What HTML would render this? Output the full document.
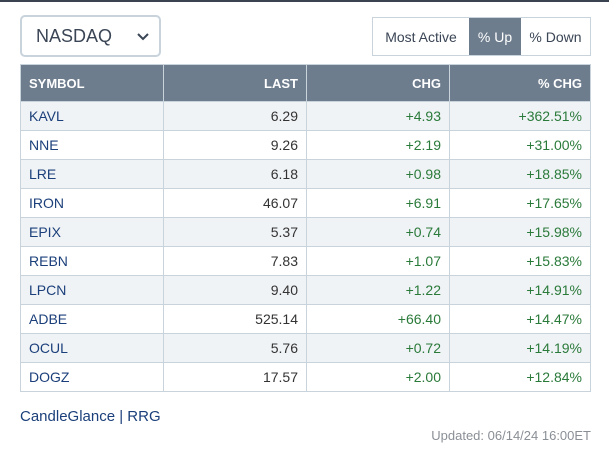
<!DOCTYPE html>
<html><head><style>
body{margin:0;width:609px;height:451px;background:#fff;font-family:"Liberation Sans",sans-serif;position:relative;overflow:hidden}
.top{position:absolute;left:0;top:0;width:609px;height:2px;background:#3c4350}
.sel{position:absolute;left:20px;top:15px;width:137px;height:38px;border:2px solid #c8d3dc;border-radius:5px;box-sizing:content-box}
.sel span{position:absolute;left:14px;top:9px;font-size:18px;color:#3a4555}
.sel svg{position:absolute;right:10px;top:16px}
.btns{position:absolute;left:372px;top:17px;width:217px;height:37px;border:1px solid #c8d3dc;display:flex;font-size:14px;color:#3a4555}
.btns div{display:flex;align-items:center;justify-content:center;height:37px}
table{position:absolute;left:20px;top:64px;width:571px;border-collapse:collapse;font-size:14px}
th{background:#6e7d8e;color:#fff;font-size:13px;height:36px;padding:0 8px;text-align:right;border:1px solid #c8d3dc;font-weight:bold}
th:first-child{text-align:left}
td{height:28px;padding:0 8px;text-align:right;border:1px solid #c8d3dc;color:#333}
td:first-child{text-align:left;color:#1b3f7a;width:125px}
td.g{color:#2a7a3a}
tr:nth-child(even) td{background:#f0f3f6}
.foot{position:absolute;left:20px;top:408px;font-size:15px;color:#1b3f7a}
.upd{position:absolute;right:18px;top:428px;font-size:13px;color:#8a8f96}
</style></head><body>
<div class="top"></div>
<div class="sel"><span>NASDAQ</span><svg width="12" height="8"><polyline points="1,1 6,6 11,1" fill="none" stroke="#3a4555" stroke-width="2"/></svg></div>
<div class="btns"><div style="width:96px">Most Active</div><div style="width:52px;background:#6e7d8e;color:#fff">% Up</div><div style="width:69px">% Down</div></div>
<table>
<tr><th style="width:126px">SYMBOL</th><th style="width:126px">LAST</th><th style="width:126px">CHG</th><th>% CHG</th></tr>
<tr><td>KAVL</td><td>6.29</td><td class="g">+4.93</td><td class="g">+362.51%</td></tr>
<tr><td>NNE</td><td>9.26</td><td class="g">+2.19</td><td class="g">+31.00%</td></tr>
<tr><td>LRE</td><td>6.18</td><td class="g">+0.98</td><td class="g">+18.85%</td></tr>
<tr><td>IRON</td><td>46.07</td><td class="g">+6.91</td><td class="g">+17.65%</td></tr>
<tr><td>EPIX</td><td>5.37</td><td class="g">+0.74</td><td class="g">+15.98%</td></tr>
<tr><td>REBN</td><td>7.83</td><td class="g">+1.07</td><td class="g">+15.83%</td></tr>
<tr><td>LPCN</td><td>9.40</td><td class="g">+1.22</td><td class="g">+14.91%</td></tr>
<tr><td>ADBE</td><td>525.14</td><td class="g">+66.40</td><td class="g">+14.47%</td></tr>
<tr><td>OCUL</td><td>5.76</td><td class="g">+0.72</td><td class="g">+14.19%</td></tr>
<tr><td>DOGZ</td><td>17.57</td><td class="g">+2.00</td><td class="g">+12.84%</td></tr>
</table>
<div class="foot">CandleGlance | RRG</div>
<div class="upd">Updated: 06/14/24 16:00ET</div>
</body></html>
